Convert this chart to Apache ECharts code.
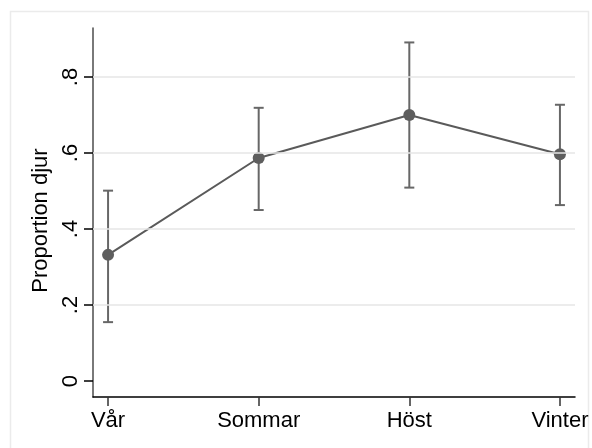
<!DOCTYPE html>
<html>
<head>
<meta charset="utf-8">
<script src="https://cdn.jsdelivr.net/npm/echarts@6/dist/echarts.min.js"></script>
<style>
  html, body { margin: 0; padding: 0; background: #ffffff; }
  #chart { width: 592px; height: 448px; }
</style>
</head>
<body>
<div id="chart"></div>
<script>
// Seasons and the estimated proportion of animals with 95% intervals
const seasons = ['Vår', 'Sommar', 'Höst', 'Vinter'];
const proportion = [0.332, 0.587, 0.700, 0.597];
const lowerCI = [0.155, 0.450, 0.509, 0.463];
const upperCI = [0.501, 0.719, 0.891, 0.727];
const yTicks = [0, 0.2, 0.4, 0.6, 0.8];
const gridValues = [0.2, 0.4, 0.6, 0.8];

const positions = seasons.map((_, i) => i);
const pointData = positions.map((x, i) => [x, proportion[i]]);
const ciData = positions.map((x, i) => [x, lowerCI[i], upperCI[i]]);

const fmt = v => (v === 0 ? '0' : String(+v.toFixed(1)).replace(/^0\./, '.'));

const chart = echarts.init(document.getElementById('chart'), null, { renderer: 'canvas' });

chart.setOption({
  animation: false,
  backgroundColor: '#ffffff',
  textStyle: { fontFamily: 'Liberation Sans, Arial, sans-serif' },
  graphic: [{
    type: 'rect',
    shape: { x: 10.5, y: 11.5, width: 578, height: 450 },
    style: { fill: 'none', stroke: '#ebebeb', lineWidth: 1.5 },
    silent: true,
    z: -1
  }],
  grid: { left: 93, right: 17, top: 28, bottom: 51 },
  xAxis: {
    type: 'value',
    min: -0.1,
    max: 3.1,
    axisLine: { show: true, onZero: false, lineStyle: { color: '#000000', width: 1.5 } },
    axisTick: { show: true, customValues: positions, length: 9, lineStyle: { color: '#333333', width: 1.5 } },
    axisLabel: {
      customValues: positions,
      formatter: v => seasons[Math.round(v)],
      fontSize: 22,
      color: '#000000',
      margin: 13
    },
    splitLine: { show: false }
  },
  yAxis: {
    type: 'value',
    min: -0.042,
    max: 0.929,
    name: 'Proportion djur',
    nameLocation: 'middle',
    nameGap: 40,
    nameRotate: 90,
    nameTextStyle: { fontSize: 22, color: '#000000', padding: [0, 16, 0, 0] },
    axisLine: { show: true, onZero: false, lineStyle: { color: '#4d4d4d', width: 1.5 } },
    axisTick: { show: true, customValues: yTicks, length: 9, lineStyle: { color: '#000000', width: 1.5 } },
    axisLabel: {
      customValues: yTicks,
      formatter: fmt,
      rotate: 90,
      fontSize: 22,
      color: '#000000',
      margin: 11
    },
    splitLine: { show: false }
  },
  series: [
    {
      // horizontal reference lines
      type: 'line',
      data: [],
      silent: true,
      markLine: {
        silent: true,
        symbol: ['none', 'none'],
        label: { show: false },
        lineStyle: { color: '#e6e6e6', width: 1.5, type: 'solid' },
        data: gridValues.map(v => ({ yAxis: v }))
      },
      z: 0
    },
    {
      type: 'custom',
      data: ciData,
      z: 2,
      renderItem: (params, api) => {
        const x = api.value(0);
        const lo = api.coord([x, api.value(1)]);
        const hi = api.coord([x, api.value(2)]);
        const cap = 5;
        const style = { stroke: '#676767', lineWidth: 2 };
        return {
          type: 'group',
          children: [
            { type: 'line', shape: { x1: lo[0], y1: lo[1], x2: hi[0], y2: hi[1] }, style },
            { type: 'line', shape: { x1: hi[0] - cap, y1: hi[1], x2: hi[0] + cap, y2: hi[1] }, style },
            { type: 'line', shape: { x1: lo[0] - cap, y1: lo[1], x2: lo[0] + cap, y2: lo[1] }, style }
          ]
        };
      }
    },
    {
      type: 'line',
      data: pointData,
      symbol: 'circle',
      symbolSize: 12,
      lineStyle: { color: '#5a5a5a', width: 2 },
      itemStyle: { color: '#5e5e5e', borderWidth: 0 },
      z: 3
    }
  ]
});
</script>
</body>
</html>
